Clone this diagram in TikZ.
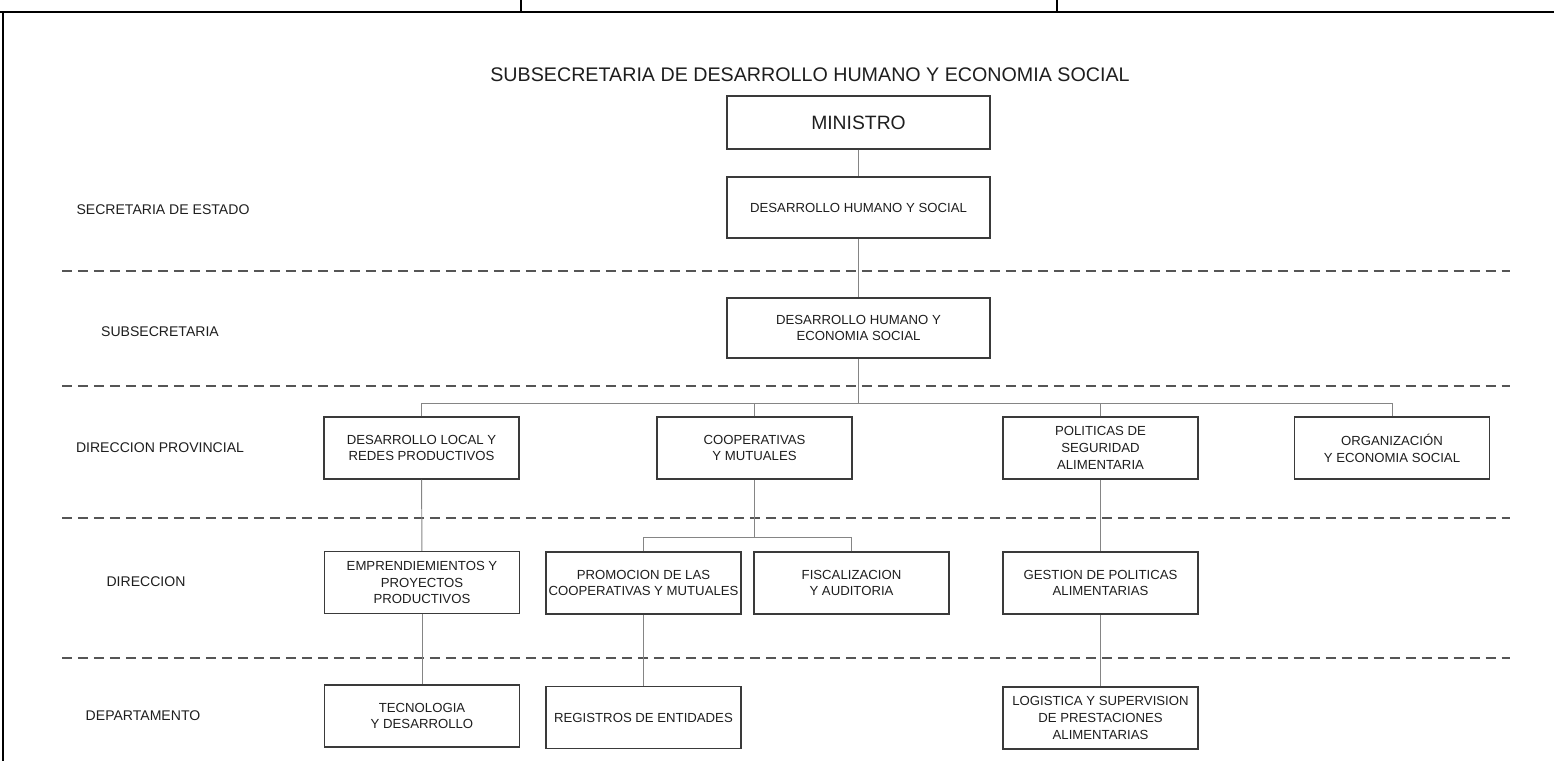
\documentclass[tikz,border=0pt]{standalone}
\usepackage{fontspec}
\setmainfont{Liberation Sans}
\usepackage{tikz}
\definecolor{boxgray}{HTML}{3A3A3A}
\definecolor{linkgray}{HTML}{858585}
\definecolor{sepgray}{HTML}{555555}
\definecolor{txtgray}{HTML}{1E1E1E}
\tikzset{
  unidad/.style={draw=boxgray, line width=0.85pt, align=center, inner sep=0pt,
    text=txtgray, minimum width=3.9cm, minimum height=1.24cm,
    font=\fontsize{7.5}{9.5}\selectfont},
  central/.style={unidad, minimum width=5.26cm},
  nivel/.style={text=txtgray, inner sep=0pt, font=\fontsize{8}{10}\selectfont},
  link/.style={draw=linkgray, line width=0.55pt},
  sep/.style={draw=sepgray, line width=0.6pt, dash pattern=on 0.2cm off 0.12cm},
  frame/.style={draw=black, line width=1pt}
}

\begin{document}
\begin{tikzpicture}[x=0.02cm, y=-0.02cm]
    \useasboundingbox (0,0) rectangle (1554,761);

    % marco
    \draw[frame] (0,12) -- (1554,12);
    \draw[frame] (3,12) -- (3,761);
    \draw[frame] (521,0) -- (521,12);
    \draw[frame] (1057,0) -- (1057,12);

    \node[nivel, font=\fontsize{11.2}{13}\selectfont] (titulo) at (810,75)
      {SUBSECRETARIA DE DESARROLLO HUMANO Y ECONOMIA SOCIAL};

    % niveles
    \node[nivel] (lsec) at (163,210) {SECRETARIA DE ESTADO};
    \node[nivel] (lsub) at (160,332) {SUBSECRETARIA};
    \node[nivel] (ldpr) at (160,448) {DIRECCION PROVINCIAL};
    \node[nivel] (ldir) at (146,582) {DIRECCION};
    \node[nivel] (ldep) at (143,716) {DEPARTAMENTO};

    \draw[sep] (62,271) -- (1510,271);
    \draw[sep] (62,386) -- (1510,386);
    \draw[sep] (62,518) -- (1510,518);
    \draw[sep] (62,658) -- (1510,658);

    % unidades
    \node[central, minimum height=1.06cm, font=\fontsize{11}{13}\selectfont] (mini) at (858.5,122.5) {MINISTRO};
    \node[central, minimum height=1.22cm] (dhs) at (858.5,207.5) {DESARROLLO HUMANO Y SOCIAL};
    \node[central, minimum height=1.2cm] (dhes) at (858.5,328) {DESARROLLO HUMANO Y\\ECONOMIA SOCIAL};

    \node[unidad] (dlrp) at (421.5,448) {DESARROLLO LOCAL Y\\REDES PRODUCTIVOS};
    \node[unidad] (coop) at (754.5,448) {COOPERATIVAS\\Y MUTUALES};
    \node[unidad] (pol) at (1100.5,448) {POLITICAS DE\\SEGURIDAD\\ALIMENTARIA};
    \node[unidad] (org) at (1392,448) {ORGANIZACIÓN\\Y ECONOMIA SOCIAL};

    \node[unidad] (emp) at (422,582.5) {EMPRENDIEMIENTOS Y\\PROYECTOS\\PRODUCTIVOS};
    \node[unidad] (prom) at (643.5,583) {PROMOCION DE LAS\\COOPERATIVAS Y MUTUALES};
    \node[unidad] (fisc) at (851.5,583) {FISCALIZACION\\Y AUDITORIA};
    \node[unidad] (gest) at (1100.5,583) {GESTION DE POLITICAS\\ALIMENTARIAS};

    \node[unidad] (tec) at (422,716) {TECNOLOGIA\\Y DESARROLLO};
    \node[unidad] (reg) at (643.5,717.5) {REGISTROS DE ENTIDADES};
    \node[unidad] (log) at (1100.5,718) {LOGISTICA Y SUPERVISION\\DE PRESTACIONES\\ALIMENTARIAS};

    % conexiones
    \coordinate (bus) at (858.5,403);
    \coordinate (cbus) at (754.5,537);

    \draw[link] (mini) -- (dhs);
    \draw[link] (dhs) -- (dhes);
    \draw[link] (dhes.south) -- (bus);
    \draw[link] (dlrp.north) |- (bus);
    \draw[link] (coop.north) |- (bus);
    \draw[link] (pol.north) |- (bus);
    \draw[link] (org.north) |- (bus);

    \draw[link] (dlrp) -- (emp);
    \draw[link] (emp) -- (tec);
    \draw[link] (coop.south) -- (cbus);
    \draw[link] (prom.north) |- (cbus);
    \draw[link] (fisc.north) |- (cbus);
    \draw[link] (prom) -- (reg);
    \draw[link] (pol) -- (gest);
    \draw[link] (gest) -- (log);
  \end{tikzpicture}
\end{document}
